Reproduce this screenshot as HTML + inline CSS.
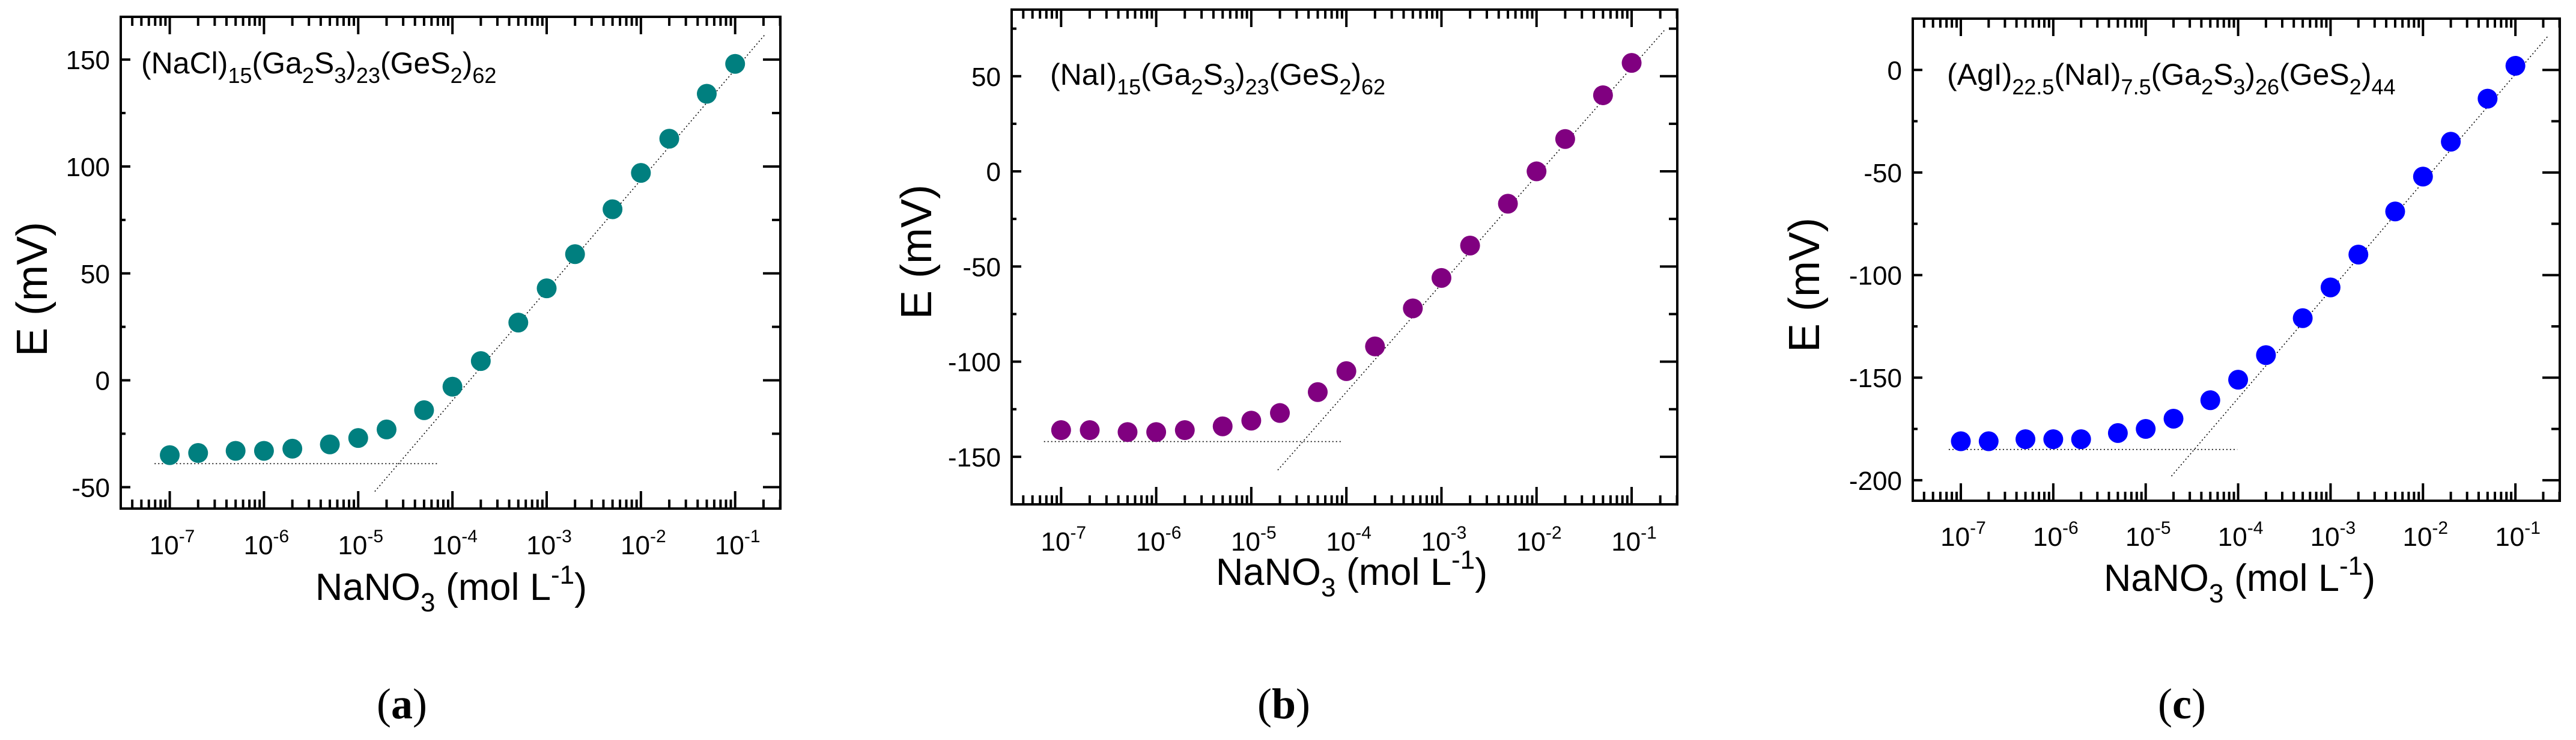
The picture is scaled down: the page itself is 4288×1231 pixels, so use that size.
<!DOCTYPE html>
<html><head><meta charset="utf-8"><style>
html,body{margin:0;padding:0;background:#fff;}
svg{display:block;font-family:"Liberation Sans",Arial,sans-serif;}
</style></head><body>
<svg id="fig" width="4288" height="1231" viewBox="0 0 4288 1231" xmlns="http://www.w3.org/2000/svg"></svg>
<script>
const xValues = [1e-7,2e-7,5e-7,1e-6,2e-6,5e-6,1e-5,2e-5,5e-5,1e-4,2e-4,5e-4,1e-3,2e-3,5e-3,1e-2,2e-2,5e-2,1e-1];
const seriesA = [-35,-34,-33,-33,-32,-30,-27,-23,-14,-3,9,27,43,59,80,97,113,134,148];
const seriesB = [-136,-136,-137,-137,-136,-134,-131,-127,-116,-105,-92,-72,-56,-39,-17,0,17,40,57];
const seriesC = [-181,-181,-180,-180,-180,-177,-175,-170,-161,-151,-139,-121,-106,-90,-69,-52,-35,-14,2];
const flatA = [-39, 6.9e-8, 6.9e-5];
const flatB = [-142, 6.6e-8, 9.1e-5];
const flatC = [-185, 7.4e-8, 9.8e-5];
const slopeA = [1.5e-5, -52, 0.21, 162];
const slopeB = [1.9e-5, -157, 0.22, 74];
const slopeC = [1.9e-5, -198, 0.23, 17];
const yTicksA = [-50,0,50,100,150];
const yTicksB = [-150,-100,-50,0,50];
const yTicksC = [-200,-150,-100,-50,0];
const xTickExps = [-7,-6,-5,-4,-3,-2,-1];

const NS = "http://www.w3.org/2000/svg";
const svg = document.getElementById('fig');
function mk(tag, attrs, parent){
  const e = document.createElementNS(NS, tag);
  for (const k in attrs) e.setAttribute(k, attrs[k]);
  (parent||svg).appendChild(e);
  return e;
}

const panels = [
  {id:'a', L:201,R:1299,T:28,B:846, ymin:-60,ymax:170, data:seriesA, flat:flatA, slope:slopeA, yt:yTicksA, color:'#007f7f',
   ylx:52, yly:481, xlx:751, xly:998, tly:922, plx:669,
   ann:{x:235,y:122,parts:[['(NaCl)',0],['15',1],['(Ga',0],['2',1],['S',0],['3',1],[')',0],['23',1],['(GeS',0],['2',1],[')',0],['62',1]]}},
  {id:'b', L:1684,R:2792,T:16,B:839, ymin:-175,ymax:85, data:seriesB, flat:flatB, slope:slopeB, yt:yTicksB, color:'#800080',
   ylx:1524, yly:419, xlx:2250, xly:973, tly:916, plx:2137,
   ann:{x:1748,y:141,parts:[['(NaI)',0],['15',1],['(Ga',0],['2',1],['S',0],['3',1],[')',0],['23',1],['(GeS',0],['2',1],[')',0],['62',1]]}},
  {id:'c', L:3184,R:4261,T:31,B:833, ymin:-210,ymax:25, data:seriesC, flat:flatC, slope:slopeC, yt:yTicksC, color:'#0000ff',
   ylx:3002, yly:474, xlx:3728, xly:983, tly:908, plx:3632,
   ann:{x:3241,y:141,parts:[['(AgI)',0],['22.5',1],['(NaI)',0],['7.5',1],['(Ga',0],['2',1],['S',0],['3',1],[')',0],['26',1],['(GeS',0],['2',1],[')',0],['44',1]]}}
];

panels.forEach(p=>{
  const g = mk('g',{});
  
  
  const lmin=-7.52, lmax=-0.52;
  const sx = v => p.L + (Math.log10(v)-lmin)/(lmax-lmin)*(p.R-p.L);
  const sy = v => p.B - (v-p.ymin)/(p.ymax-p.ymin)*(p.B-p.T);

  const fr = mk('rect',{x:p.L,y:p.T,width:p.R-p.L,height:p.B-p.T,fill:'none',stroke:'#000','stroke-width':4},g);
  
  

  const xt = mk('g',{stroke:'#000','stroke-width':4},g);
  
  
  for(let e=-8;e<=0;e++){
    for(let m=1;m<=9;m++){
      const v=m*Math.pow(10,e); const lv=Math.log10(v);
      if(lv<lmin||lv>lmax) continue;
      const x=sx(v); const len = m===1?29:15;
      mk('line',{x1:x,y1:p.B,x2:x,y2:p.B-len},xt);
      mk('line',{x1:x,y1:p.T,x2:x,y2:p.T+len},xt);
    }
  }
  const yg = mk('g',{stroke:'#000','stroke-width':4},g);
  
  
  for(let v=Math.ceil(p.ymin/25)*25; v<=p.ymax; v+=25){
    const y=sy(v); const major = v%50===0;
    mk('line',{x1:p.L,y1:y,x2:p.L+(major?16:8),y2:y},yg);
    mk('line',{x1:p.R,y1:y,x2:p.R-(major?29:14),y2:y},yg);
  }
  p.yt.forEach(v=>{
    const t=mk('text',{x:p.L-18,y:sy(v)+16,'font-size':44,'text-anchor':'end'},g);
    t.textContent=String(v);
    
    
  });
  xTickExps.forEach(e=>{
    const t=mk('text',{x:sx(Math.pow(10,e))+4,y:p.tly,'font-size':44,'text-anchor':'middle'},g);
    
    
    const a=mk('tspan',{},t); a.textContent='10';
    const b=mk('tspan',{dy:-20,'font-size':30},t); b.textContent=String(e);
  });
  const yl=mk('text',{x:0,y:0,'font-size':72,'text-anchor':'middle',transform:`translate(${p.ylx+26},${p.yly}) rotate(-90)`},g);
  yl.textContent='E (mV)';
  
  
  const xl=mk('text',{x:p.xlx,y:p.xly,'font-size':63,'text-anchor':'middle'},g);
  
  
  let lastDy=0;
  [['NaNO',0],['3',1],[' (mol L',0],['-1',2],[')',0]].forEach(([s,k])=>{
    const ts=mk('tspan',{},xl);
    if(k===1){ts.setAttribute('font-size',44);ts.setAttribute('dy',19);}
    else if(k===2){ts.setAttribute('font-size',44);ts.setAttribute('dy',-27);}
    else if(lastDy){ts.setAttribute('dy',lastDy);}
    lastDy = k===1?-19:(k===2?27:0);
    ts.textContent=s;
  });
  const an=mk('text',{x:p.ann.x,y:p.ann.y,'font-size':50},g);
  
  
  let prev=0;
  p.ann.parts.forEach(([s,k])=>{
    const ts=mk('tspan',{},an);
    if(k===1){ts.setAttribute('font-size',36); ts.setAttribute('dy',16-prev); prev=16;}
    else {ts.setAttribute('dy',-prev); prev=0;}
    ts.textContent=s;
  });
  const f1=mk('line',{x1:sx(p.flat[1]),y1:sy(p.flat[0]),x2:sx(p.flat[2]),y2:sy(p.flat[0]),stroke:'#000','stroke-width':1.6,'stroke-dasharray':'2 4'},g);
  
  
  const f2=mk('line',{x1:sx(p.slope[0]),y1:sy(p.slope[1]),x2:sx(p.slope[2]),y2:sy(p.slope[3]),stroke:'#000','stroke-width':1.6,'stroke-dasharray':'2 4'},g);
  
  
  xValues.forEach((xv,i)=>{
    const c=mk('circle',{cx:sx(xv),cy:sy(p.data[i]),r:16.5,fill:p.color},g);
    
    
  });
  const pl=mk('text',{x:p.plx,y:1195,'font-size':72,'text-anchor':'middle','font-family':'"Liberation Serif",serif'},g);
  
  
  const o=mk('tspan',{},pl); o.textContent='(';
  const m2=mk('tspan',{'font-weight':'bold'},pl); m2.textContent=p.id;
  const c2=mk('tspan',{},pl); c2.textContent=')';
});
</script>
</body></html>
